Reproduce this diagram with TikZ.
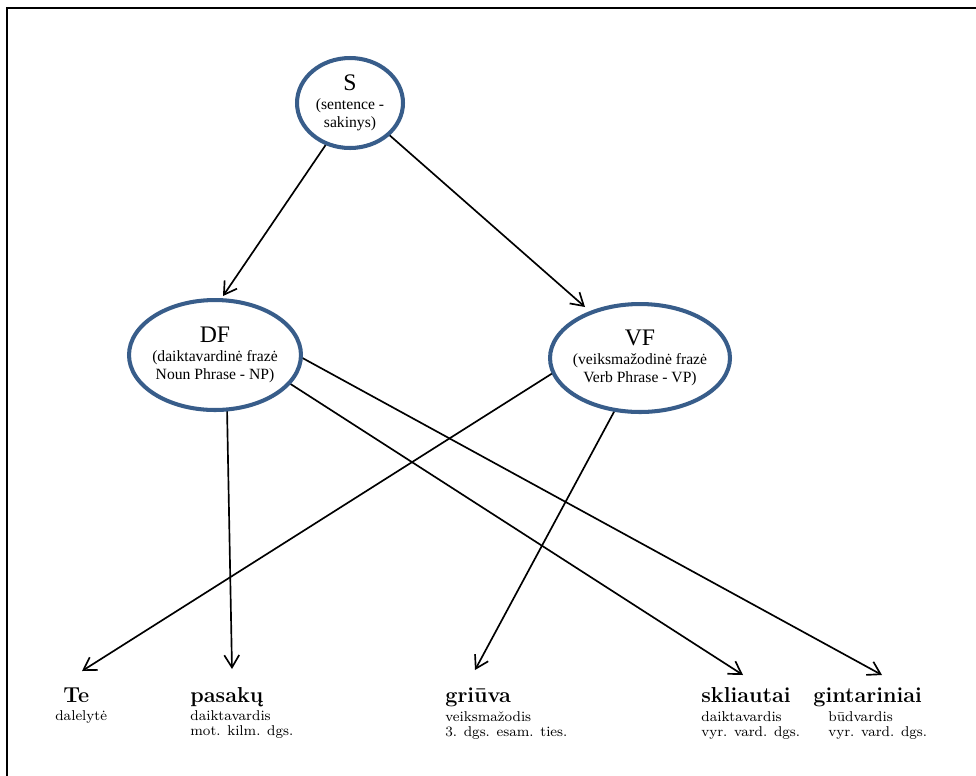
\documentclass[tikz,border=0pt]{standalone}
\usepackage{fontspec}
\newfontfamily\tnr{Liberation Serif}
\usetikzlibrary{arrows.meta,calc,shapes.geometric,backgrounds}
\definecolor{phraseblue}{RGB}{56,93,138}

% three centred lines inside a phrase ellipse, taking no room of their own
\newcommand{\phrasetext}[3]{\raisebox{-2.6pt}[0pt][0pt]{\makebox[0pt]{\begin{tabular}{@{}c@{}}{\fontsize{13.5}{14}\selectfont #1}\\[1.2pt]#2\\#3\end{tabular}}}}
% grammatical notes under a word, first baseline on the node's base
\newcommand{\glosstext}[1]{\begin{tabular}[t]{@{}l@{}}#1\end{tabular}}

\begin{document}
\begin{tikzpicture}[x=0.02cm,y=-0.02cm,
  phrase/.style={ellipse, draw=phraseblue, line width=2.3pt, fill=white,
    inner sep=0pt, font=\tnr\fontsize{8.9}{9.8}\selectfont},
  link/.style={line width=0.95pt,
    -{Straight Barb[length=7pt,width=8.5pt,line width=0.95pt]}},
  word/.style={anchor=base west, inner sep=0pt,
    font=\bfseries\fontsize{12.3}{14}\selectfont},
  gloss/.style={anchor=base west, inner sep=0pt,
    font=\fontsize{8.1}{8.6}\selectfont}]

\useasboundingbox (0,0) rectangle (976,775);
\begin{scope}
  \clip (0,0) rectangle (976,775);
  \draw[line width=1pt] (7,8) rectangle (1000,800);
\end{scope}

% phrase structure nodes
\node[phrase, minimum width=2.12cm, minimum height=1.8cm] (s) at (350,103)
  {\phrasetext{S}{(sentence -}{sakinys)}};
\node[phrase, minimum width=3.44cm, minimum height=2.2cm] (df) at (215,355)
  {\phrasetext{DF}{(daiktavardinė frazė}{Noun Phrase - NP)}};
\node[phrase, minimum width=3.6cm, minimum height=2.16cm] (vf) at (640,358)
  {\phrasetext{VF}{(veiksmažodinė frazė}{Verb Phrase - VP)}};

% words of the sentence
\node[word] (te) at (63,702) {Te};
\node[gloss] (teg) at (55,720) {\glosstext{dalelytė}};
\node[word] (pasaku) at (190,702) {pasakų};
\node[gloss] (pasakug) at (190,720) {\glosstext{daiktavardis\\mot. kilm. dgs.}};
\node[word] (griuva) at (445,702) {griūva};
\node[gloss] (griuvag) at (445,721) {\glosstext{veiksmažodis\\3. dgs. esam. ties.}};
\node[word] (skliautai) at (701,702) {skliautai};
\node[gloss] (skliautaig) at (701,721) {\glosstext{daiktavardis\\vyr. vard. dgs.}};
\node[word] (gintariniai) at (813,702) {gintariniai};
\node[gloss] (gintariniaig) at (828,721) {\glosstext{būdvardis\\vyr. vard. dgs.}};

% connectors, kept behind the ellipses
\begin{pgfonlayer}{background}
\draw[link] ($(s.center)+(-23,40)$) -- ($(df.center)+(8,-59)$);
\draw[link] ($(s.center)+(37,30)$) -- ($(vf.center)+(-55,-51)$);
\draw[link] ($(df.center)+(12,52)$) -- ($(pasaku.base west)+(42,-33)$);
\draw[link] ($(df.center)+(74,28)$) -- ($(skliautai.base west)+(42,-27)$);
\draw[link] ($(df.center)+(82,0)$) -- ($(gintariniai.base west)+(69,-27)$);
\draw[link] ($(vf.center)+(-84,13)$) -- ($(te.base west)+(19,-31)$);
\draw[link] ($(vf.center)+(-25,52)$) -- ($(griuva.base west)+(30,-32)$);
\end{pgfonlayer}
\end{tikzpicture}
\end{document}
